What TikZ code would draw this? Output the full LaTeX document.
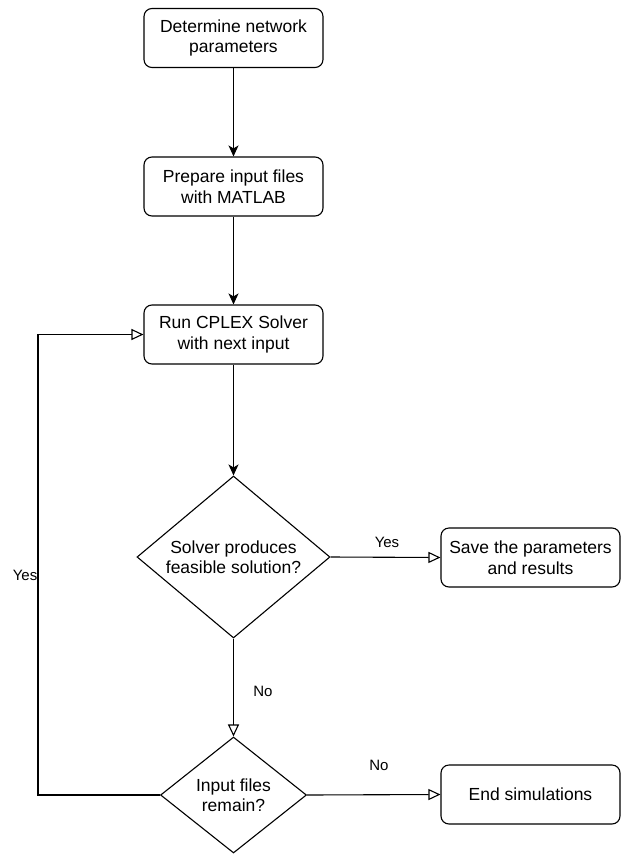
\documentclass[tikz,border=0pt]{standalone}
\usepackage{fontspec}
\setmainfont{Liberation Sans}
\usetikzlibrary{arrows.meta,shapes.geometric}
\begin{document}
\begin{tikzpicture}[x=1pt,y=-1pt,
  box/.style={draw,rounded corners=8pt,minimum width=179pt,minimum height=59pt,align=center,inner sep=0pt,font=\fontsize{17.5}{20.5}\selectfont,line width=1.1pt},
  dia/.style={draw,diamond,inner sep=0pt,line width=1.1pt},
  txt/.style={align=center,font=\fontsize{17.5}{20.5}\selectfont,inner sep=0pt},
  lbl/.style={font=\fontsize{15}{18}\selectfont,inner sep=0pt},
  fa/.style={-{Stealth[length=11pt,width=10pt,inset=3pt]},line width=1.1pt},
  oa/.style={-{Triangle[open,length=12pt,width=11pt,fill=white]},line width=1.1pt}]
\useasboundingbox (0,0) rectangle (622,854);
\node[box] (b1) at (233.5,38) {Determine network\\parameters};
\node[box] (b2) at (233.5,186.5) {Prepare input files\\with MATLAB};
\node[box] (b3) at (233.5,334.5) {Run CPLEX Solver\\with next input};
\node[dia,minimum width=193pt,minimum height=162pt] (d1) at (233.5,557) {};
\node[txt] (d1t) at (d1.center) {Solver produces\\feasible solution?};
\node[box] (s) at (530.5,557.5) {Save the parameters\\and results};
\node[dia,minimum width=146pt,minimum height=116pt] (d2) at (233.5,795) {};
\node[txt] (d2t) at (d2.center) {Input files\\remain?};
\node[box] (e) at (530.5,794.5) {End simulations};
\coordinate (lp) at (38,795);
\draw[fa] (b1.south) -- (b2.north);
\draw[fa] (b2.south) -- (b3.north);
\draw[fa] (b3.south) -- (d1.north);
\draw[oa] (d1.east) -- (s.west);
\draw[oa] (d1.south) -- (d2.north);
\draw[oa] (d2.east) -- (e.west);
\draw[oa] (d2.west) -- (lp) |- (b3.west);
\node[lbl] (ly1) at (387,542) {Yes};
\node[lbl] (ln1) at (263,691) {No};
\node[lbl] (ln2) at (379,765) {No};
\node[lbl,anchor=east] (ly2) at (37.5,575) {Yes};
\end{tikzpicture}
\end{document}
